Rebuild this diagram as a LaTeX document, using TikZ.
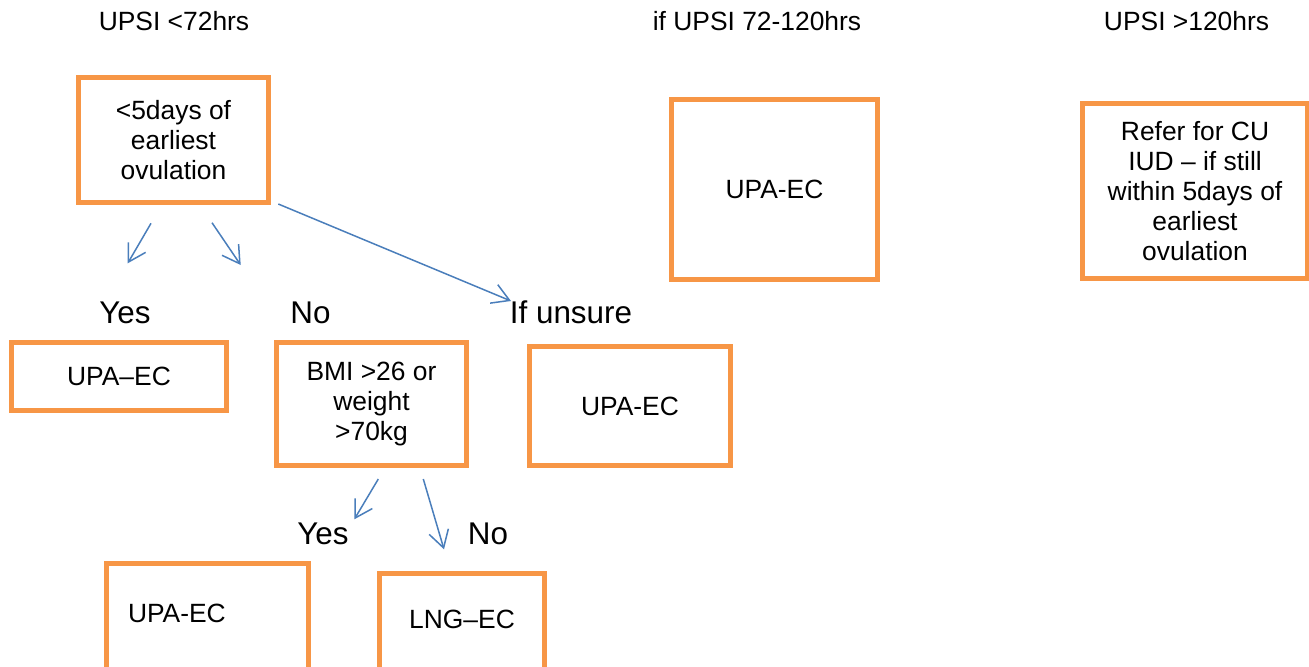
\documentclass[tikz,border=0pt]{standalone}
\usepackage{fontspec}
\setmainfont{Liberation Sans}
\usetikzlibrary{arrows.meta}
\definecolor{kastenrand}{HTML}{F79646}
\definecolor{pfeilblau}{HTML}{4A7EBB}
\tikzset{
  kasten/.style={draw=kastenrand, line width=2.5pt, outer sep=0pt, inner sep=0pt,
    align=center, font=\fontsize{13.2}{15}\selectfont},
  kopf/.style={anchor=base, inner sep=0pt, font=\fontsize{13.2}{15}\selectfont},
  antwort/.style={anchor=base, inner sep=0pt, font=\fontsize{15.7}{18}\selectfont},
  pfeil/.style={draw=pfeilblau, line width=0.75pt, -{Straight Barb[length=8.5pt,width=10pt]}}
}
\begin{document}
\begin{tikzpicture}[x=0.5pt,y=-0.5pt]
\useasboundingbox (0,0) rectangle (1309,666);
% Ueberschriften
\node[kopf] (h1) at (174,30.5) {UPSI <72hrs};
\node[kopf] (h2) at (757,30.5) {if UPSI 72-120hrs};
\node[kopf] (h3) at (1186.5,30.5) {UPSI >120hrs};

% Kaesten
\node[kasten, minimum width=95pt, minimum height=62.5pt] (kTage) at (173.5,140) {<5days of\\earliest\\ovulation};
\node[kasten, minimum width=103pt, minimum height=90pt] (kMitte) at (774.5,189.5) {UPA-EC};
\node[kasten, minimum width=112.5pt, minimum height=87.5pt] (kSpirale) at (1195,191) {Refer for CU\\IUD – if still\\within 5days of\\earliest\\ovulation};
\node[kasten, minimum width=107.5pt, minimum height=34pt] (kJa) at (119,376.5) {UPA–EC};
\node[kasten, minimum width=95pt, minimum height=61.5pt] (kBmi) at (371.5,404) {BMI >26 or\\weight\\>70kg};
\node[kasten, minimum width=100.5pt, minimum height=59.5pt] (kUnsicher) at (630,406) {UPA-EC};
\node[kasten, anchor=north west, align=left, inner xsep=10.75pt, text width=79.5pt,
  text height=29.5pt, text depth=33.75pt] (kBmiJa) at (106.5,563.5) {UPA-EC};
\node[kasten, anchor=north west, text width=82.5pt,
  text height=27.5pt, text depth=30.75pt] (kBmiNein) at (379.5,573.5) {LNG–EC};

% Antworten
\node[antwort] (ja) at (125,323.5) {Yes};
\node[antwort] (nein) at (310.5,323.5) {No};
\node[antwort] (unsicher) at (571,323.5) {If unsure};
\node[antwort] (bmiJa) at (323,544) {Yes};
\node[antwort] (bmiNein) at (488,544) {No};

% Pfeile
\coordinate (p1a) at (151,223.3);   \coordinate (p1b) at (127.7,263.3);
\coordinate (p2a) at (212,222.7);   \coordinate (p2b) at (240.7,265);
\coordinate (p3a) at (278.3,204);   \coordinate (p3b) at (511,301);
\coordinate (p4a) at (378.3,479);   \coordinate (p4b) at (354.3,519.3);
\coordinate (p5a) at (423.3,479);   \coordinate (p5b) at (444,549.3);
\foreach \a/\b in {p1a/p1b,p2a/p2b,p3a/p3b,p4a/p4b,p5a/p5b}
\draw[pfeil] (\a) -- (\b);
\end{tikzpicture}
\end{document}
